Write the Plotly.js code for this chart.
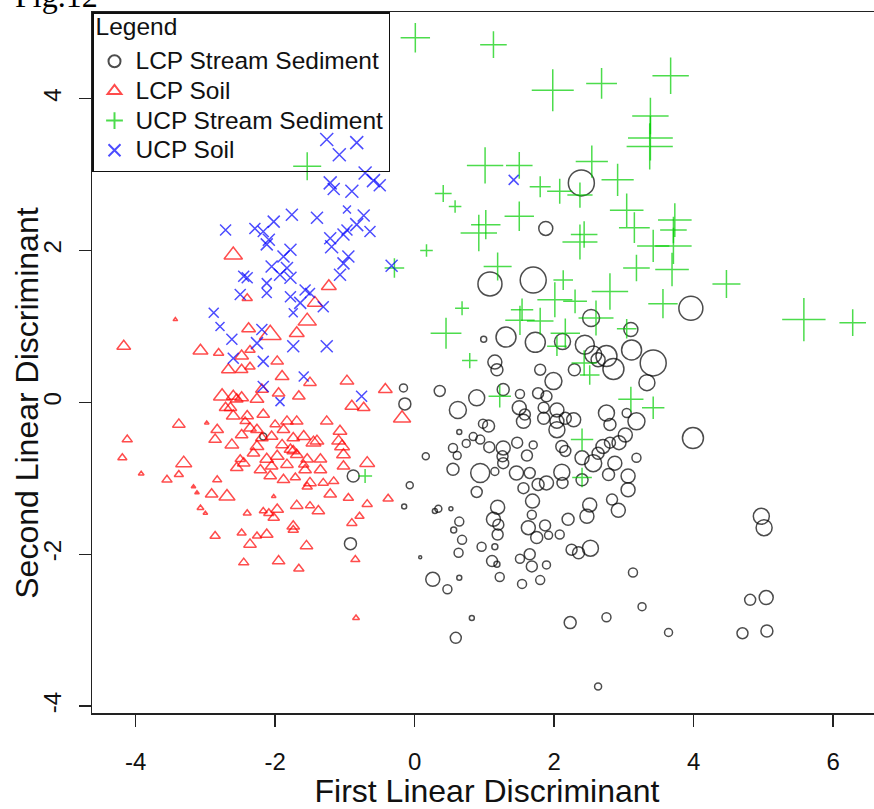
<!DOCTYPE html>
<html>
<head>
<meta charset="utf-8">
<script src="https://cdn.plot.ly/plotly-3.0.1.min.js"></script>
<style>
html, body { margin: 0; padding: 0; overflow: hidden; background: #fff; }
#plot { width: 882px; height: 809px; }
.legendtext, .legendtitletext { font-size: 24.5px !important; }
#plot .legendtitletext { transform: translateY(-6px); }
</style>
</head>
<body>
<div id="plot"></div>
<script>
// LCP Stream Sediment (black circles)
const lcpSedX = [2.39,1.88,1.08,1.70,3.96,2.53,3.10,0.99,1.31,1.73,2.12,2.44,2.56,2.75,2.85,3.11,3.42,3.33,2.29,2.63,1.15,1.18,1.80,1.99,-0.16,-0.14,0.36,0.89,0.62,1.27,1.51,1.77,1.89,1.50,1.58,1.56,1.85,2.04,1.85,2.04,2.04,2.16,2.28,2.75,2.80,3.04,3.18,3.02,2.93,2.80,2.70,2.63,2.56,2.40,2.11,2.16,2.87,2.78,3.06,3.06,3.18,2.83,2.92,2.51,2.47,2.20,2.08,2.25,2.35,2.52,2.11,2.12,2.40,1.89,1.77,1.69,1.68,1.63,1.75,1.87,1.92,1.56,1.65,1.46,1.61,1.70,1.47,1.27,1.27,1.15,0.94,0.89,1.07,0.94,0.84,0.74,0.55,0.61,0.55,0.16,0.64,0.98,1.06,-0.07,-0.15,0.34,0.29,0.52,0.64,0.56,0.68,0.63,0.96,1.15,1.19,1.13,1.20,1.19,1.11,1.18,1.22,1.51,1.65,1.68,1.89,1.80,1.54,0.26,0.47,0.64,0.08,0.82,0.59,2.23,2.75,3.13,3.26,3.64,2.63,4.97,5.01,4.81,5.04,4.70,5.05,3.99,1.26,-2.17,-0.88,-0.92];
const lcpSedY = [2.89,2.29,1.56,1.61,1.24,1.11,0.96,0.83,0.86,0.79,0.80,0.76,0.63,0.61,0.44,0.69,0.52,0.26,0.43,0.56,0.53,0.43,0.43,0.28,0.19,-0.02,0.15,0.06,-0.10,0.17,0.11,0.12,0.08,-0.07,-0.16,-0.25,-0.07,-0.10,-0.21,-0.25,-0.36,-0.21,-0.23,-0.14,-0.29,-0.14,-0.25,-0.43,-0.53,-0.53,-0.58,-0.67,-0.80,-0.73,-0.58,-0.64,-0.80,-0.95,-0.97,-1.15,-0.73,-1.28,-1.42,-1.35,-1.50,-1.54,-1.74,-1.94,-1.98,-1.92,-0.92,-1.06,-1.02,-1.06,-1.08,-1.30,-1.48,-1.65,-1.78,-1.62,-1.75,-1.13,-0.93,-0.93,-0.70,-0.56,-0.53,-0.60,-0.80,-0.91,-0.93,-1.18,-0.59,-0.49,-0.45,-0.54,-0.60,-0.70,-0.88,-0.71,-0.39,-0.28,-0.31,-1.09,-1.37,-1.40,-1.43,-1.40,-1.57,-1.68,-1.81,-1.98,-1.90,-1.90,-1.38,-1.54,-1.61,-1.74,-2.09,-2.13,-2.30,-2.06,-2.00,-2.16,-2.14,-2.34,-2.39,-2.33,-2.46,-2.31,-2.04,-2.84,-3.10,-2.90,-2.83,-2.24,-2.69,-3.03,-3.74,-1.50,-1.65,-2.60,-2.57,-3.04,-3.01,-0.47,-0.71,-0.45,-0.97,-1.86];
const lcpSedSize = [26,14,24,26,24,17,14,6,20,20,16,19,17,21,21,20,26,16,12,14,14,12,11,17,8,12,11,16,17,12,9,11,11,14,11,14,11,14,12,14,16,12,14,16,12,9,17,14,14,11,14,12,17,14,12,11,14,12,14,14,9,11,14,14,14,12,9,11,12,16,16,11,12,14,12,14,9,14,12,11,8,11,11,14,11,8,11,14,11,8,19,11,11,9,8,8,9,8,12,7,5,9,12,7,5,7,5,4,9,6,9,9,9,6,14,14,11,11,11,6,9,9,11,11,8,9,9,14,9,5,3,5,11,12,9,9,8,8,7,16,16,11,14,11,12,21,11,7,12,12];

// LCP Soil (red triangles)
const lcpSoilX = [-2.60,-1.23,-1.43,-1.54,-1.69,-2.07,-2.38,-3.43,-2.40,-4.17,-3.07,-2.81,-2.48,-2.36,-1.97,-2.67,-2.48,-2.36,-1.90,-0.97,-0.42,-1.50,-1.66,-2.76,-2.60,-2.48,-2.26,-1.95,-0.90,-0.73,-0.18,-2.71,-2.60,-2.40,-2.17,-1.69,-1.26,-1.07,-3.38,-2.83,-2.00,-4.12,-2.86,-1.59,-4.19,-3.92,-2.98,-2.62,-3.31,-3.38,-3.55,-3.17,-3.12,-2.83,-2.91,-2.69,-3.07,-3.00,-2.86,-2.48,-2.36,-2.26,-2.12,-2.45,-2.40,-2.17,-2.09,-1.97,-2.02,-2.02,-1.69,-1.50,-1.38,-1.74,-1.74,-1.55,-1.95,-1.66,-0.85,-0.90,-0.79,-0.68,-0.38,-0.95,-1.21,-0.84,-1.09,-1.04,-1.02,-0.68,-1.02,-1.35,-1.35,-1.54,-1.69,-1.59,-1.57,-1.45,-1.40,-1.78,-1.74,-1.90,-1.97,-1.83,-2.12,-2.05,-2.21,-2.07,-1.88,-1.71,-1.50,-1.31,-1.16,-1.54,-2.26,-2.31,-2.45,-2.50,-2.55,-2.48,-2.36,-2.26,-2.19,-2.05,-1.88,-1.83,-1.74,-2.64,-2.43,-2.55,-2.19];
const lcpSoilY = [1.94,1.53,1.31,1.07,0.91,0.89,0.97,1.09,1.37,0.74,0.68,0.65,0.61,0.69,0.54,0.43,0.43,0.47,0.34,0.28,0.17,0.26,0.08,0.08,0.08,0.06,0.04,0.12,-0.05,-0.07,-0.21,-0.07,-0.18,-0.18,-0.16,-0.25,-0.25,-0.38,-0.29,-0.36,-0.29,-0.49,-0.49,-0.45,-0.73,-0.94,-0.27,-0.56,-0.80,-0.95,-1.02,-1.11,-1.19,-1.02,-1.21,-1.24,-1.39,-1.46,-1.76,-1.72,-1.87,-1.76,-1.74,-2.11,-1.46,-1.43,-1.46,-1.41,-1.52,-1.24,-1.36,-1.36,-1.43,-1.63,-1.68,-1.89,-2.09,-2.19,-2.07,-1.59,-1.50,-1.34,-1.27,-1.26,-1.21,-2.84,-0.51,-0.58,-0.69,-0.80,-0.84,-0.75,-0.89,-0.75,-0.69,-0.82,-0.89,-0.53,-0.51,-0.62,-0.64,-0.56,-0.71,-0.82,-0.75,-0.84,-0.89,-0.97,-1.02,-0.99,-1.06,-1.06,-1.04,-1.11,-0.58,-0.67,-0.80,-0.75,-0.86,-0.43,-0.34,-0.36,-0.47,-0.45,-0.36,-0.25,-0.47,-0.07,-0.25,0.04,0.17];
const lcpSoilSize = [16,13,13,16,13,19,12,4,9,12,13,9,12,9,11,12,11,9,12,12,12,11,11,15,12,12,12,11,12,11,15,11,12,11,11,11,11,12,11,11,9,9,11,12,8,5,4,12,14,8,9,4,4,8,11,14,6,4,9,8,11,8,11,9,7,7,9,11,10,4,11,8,11,11,9,11,11,9,8,9,8,9,9,9,11,6,12,13,12,13,11,11,11,11,11,9,11,13,12,11,11,11,12,11,12,11,11,11,11,9,11,9,9,9,12,11,11,9,11,11,11,11,11,11,11,11,11,11,9,11,11];

// UCP Stream Sediment (green crosses)
const ucpSedX = [0.01,1.13,1.98,2.68,3.67,3.38,3.38,3.37,1.01,1.50,1.80,2.08,2.54,2.91,2.37,0.41,0.58,3.04,3.15,3.73,3.71,3.42,3.71,1.02,0.92,1.50,2.37,2.43,0.17,-0.29,1.19,3.18,3.69,4.47,2.13,2.80,2.01,2.30,0.68,3.56,5.58,6.28,1.54,1.80,0.45,1.51,2.16,2.04,2.60,3.04,0.79,2.43,2.51,1.22,3.10,3.42,2.40,2.40,-0.71,-1.54];
const ucpSedY = [4.80,4.71,4.11,4.20,4.30,3.77,3.48,3.37,3.12,3.12,2.84,2.78,3.17,2.93,2.73,2.75,2.58,2.53,2.30,2.40,2.27,2.06,2.06,2.34,2.23,2.45,2.11,2.21,2.00,1.77,1.79,1.77,1.75,1.56,1.61,1.46,1.35,1.33,1.24,1.30,1.09,1.05,1.22,1.07,0.91,1.08,0.91,0.74,1.11,0.97,0.55,0.52,0.36,0.08,0.04,-0.07,-0.49,-0.99,-0.97,3.11];
const ucpSedSize = [21,19,30,22,26,26,32,33,26,19,15,18,23,23,18,12,9,24,22,24,19,23,26,21,26,21,25,19,9,14,20,19,24,20,14,26,25,17,10,21,31,19,16,19,22,21,21,14,25,14,11,18,14,16,18,16,16,14,10,20];

// UCP Soil (blue x)
const ucpSoilX = [-1.26,-1.08,-0.83,-0.71,-0.59,-0.50,-1.21,-1.16,-0.90,-0.97,-0.73,-0.83,-0.64,-0.97,-1.40,-1.76,-2.02,-2.29,-2.17,-2.71,-2.09,-2.12,-1.21,-1.02,-1.19,-1.78,-1.88,-0.95,-1.02,-0.33,-2.05,-1.83,-1.93,-1.78,-1.07,-2.45,-2.40,-2.50,-2.12,-2.12,-1.78,-1.57,-1.50,-1.64,-1.31,-1.74,-2.88,-2.79,-2.62,-2.26,-2.19,-1.74,-1.26,-2.60,-2.17,-1.59,-2.17,-1.93,-0.76,1.42];
const ucpSoilY = [3.46,3.26,3.42,3.02,2.92,2.86,2.89,2.81,2.78,2.54,2.46,2.34,2.25,2.27,2.43,2.47,2.38,2.29,2.25,2.27,2.14,2.08,2.16,2.21,2.05,2.01,1.92,1.92,1.83,1.80,1.79,1.77,1.68,1.64,1.68,1.66,1.64,1.42,1.57,1.44,1.39,1.48,1.44,1.31,1.26,1.18,1.18,1.00,0.83,0.78,0.96,0.74,0.74,0.58,0.54,0.34,0.21,0.01,0.08,2.93];
const ucpSoilSize = [13,13,13,13,13,12,13,12,13,8,12,13,11,11,12,12,12,11,11,11,12,12,12,12,13,12,12,12,12,12,12,12,12,12,12,11,11,11,10,10,11,11,10,12,11,9,10,9,11,12,11,12,12,11,11,10,11,9,11,10];

const groupNames = ["LCP Stream Sediment", "LCP Soil", "UCP Stream Sediment", "UCP Soil"];
const xTicks = [-4, -2, 0, 2, 4, 6];
const yTicks = [-4, -2, 0, 2, 4];
const xTitle = "First Linear Discriminant";
const yTitle = "Second Linear Discriminant";
const legendTitle = "Legend";
const figLabel = "Fig.12";

const FONT = "Liberation Sans, Arial, Helvetica, sans-serif";

function trace(x, y, s, name, symbol, color) {
  return {
    type: "scatter", mode: "markers", x: x, y: y, name: name,
    marker: { symbol: symbol, size: s, color: color, line: { color: color, width: 1.5 } },
    hoverinfo: "skip", cliponaxis: true
  };
}

const data = [
  trace(lcpSedX, lcpSedY, lcpSedSize, groupNames[0], "circle-open", "#000000"),
  trace(lcpSoilX, lcpSoilY, lcpSoilSize, groupNames[1], "triangle-up-open", "#FF0000"),
  trace(ucpSedX, ucpSedY, ucpSedSize, groupNames[2], "cross-thin-open", "#00CD00"),
  trace(ucpSoilX, ucpSoilY, ucpSoilSize, groupNames[3], "x-thin-open", "#0000FF")
];

const axisCommon = {
  showgrid: false, zeroline: false, showline: true, mirror: true,
  linecolor: "#222", linewidth: 1.5,
  ticks: "outside", ticklen: 12, tickwidth: 1.5, tickcolor: "#222",
  tickfont: { family: FONT, size: 24, color: "#111" },
  tickmode: "array"
};

const layout = {
  width: 882, height: 809,
  margin: { l: 92, r: 0, t: 12, b: 95.5 },
  paper_bgcolor: "#fff", plot_bgcolor: "#fff",
  font: { family: FONT, color: "#111" },
  showlegend: true,
  xaxis: Object.assign({}, axisCommon, {
    range: [-4.625, 6.70], tickvals: xTicks, ticktext: xTicks.map(String),
    ticklabelstandoff: 15,
    title: { text: xTitle, font: { family: FONT, size: 32, color: "#111" }, standoff: 2 }
  }),
  yaxis: Object.assign({}, axisCommon, {
    range: [-4.09, 5.14], tickvals: yTicks, ticktext: yTicks.map(String),
    tickangle: -90, ticklabelstandoff: 8,
    title: { text: "" }
  }),
  legend: {
    x: 0, y: 1, xanchor: "left", yanchor: "top",
    bgcolor: "rgba(0,0,0,0)", bordercolor: "#111", borderwidth: 1.5,
    font: { family: FONT, size: 20.5, color: "#111" },
    title: { text: legendTitle, font: { family: FONT, size: 21.5, color: "#111" } },
    itemsizing: "constant", itemwidth: 32, tracegroupgap: 0
  },
  annotations: [
    {
      text: figLabel, xref: "paper", yref: "paper", x: -0.1, y: 1,
      xanchor: "left", yanchor: "bottom", showarrow: false, yshift: -4,
      font: { family: "Liberation Serif, Times New Roman, serif", size: 32, color: "#000" }
    },
    {
      text: yTitle, xref: "paper", yref: "paper", x: -0.0823, y: 0.4426,
      xanchor: "center", yanchor: "middle", textangle: -90, showarrow: false,
      font: { family: FONT, size: 32, color: "#111" }
    }
  ]
};

Plotly.newPlot("plot", data, layout, { displayModeBar: false, staticPlot: true });
</script>
</body>
</html>
